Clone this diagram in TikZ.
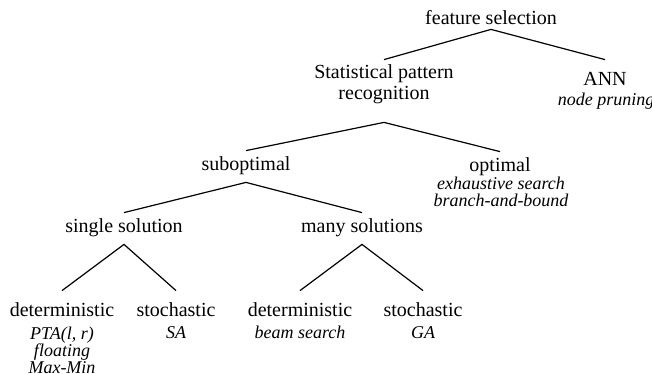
\documentclass[tikz,border=0pt]{standalone}
\usepackage{fontspec}
\setmainfont{Liberation Serif}
\begin{document}
\begin{tikzpicture}[x=0.5pt,y=-0.5pt,
  ttl/.style={font=\fontsize{10}{10.3}\selectfont, anchor=base, inner sep=0pt,
    text height=9.5pt, text depth=6pt, align=center},
  subt/.style={font=\fontsize{9}{8.5}\selectfont\itshape, anchor=base, inner sep=0pt, align=center},
  edge/.style={line width=0.6pt}]
\useasboundingbox (0,0) rectangle (652,374);
% titles (multi-line nodes are placed at the baseline of their last line)
\node[ttl, text depth=2pt] (fs) at (491,25) {feature selection};
\node[ttl, font=\fontsize{10}{10}\selectfont, text height=19.5pt, text depth=11.5pt] (spr) at (384,99) {Statistical pattern\\recognition};
\node[ttl, text height=12.5pt] (ann) at (605,85) {ANN};
\node[subt] (annS) at (606,105) {node pruning};
\node[ttl] (sub) at (246,170) {suboptimal};
\node[ttl] (opt) at (500,171) {optimal};
\node[subt] (optS) at (501,206.5) {exhaustive search\\branch-and-bound};
\node[ttl] (single) at (124,232) {single solution};
\node[ttl] (many) at (362,232) {many solutions};
\node[ttl, text height=12.5pt] (det1) at (62,316) {deterministic};
\node[subt] (det1S) at (62,373) {PTA(l, r)\\floating\\Max-Min};
\node[ttl, text height=12.5pt] (sto1) at (176,316) {stochastic};
\node[subt] (sto1S) at (176,338) {SA};
\node[ttl, text height=12.5pt] (det2) at (300,316) {deterministic};
\node[subt] (det2S) at (300,338) {beam search};
\node[ttl, text height=12.5pt] (sto2) at (423,316) {stochastic};
\node[subt] (sto2S) at (423,338) {GA};
% connectors
\draw[edge] (spr.north) -- (fs.south) -- (ann.north);
\draw[edge] (sub.north) -- (spr.south) -- (opt.north);
\draw[edge] (single.north) -- (sub.south) -- (many.north);
\draw[edge] (det1.north) -- (single.south) -- (sto1.north);
\draw[edge] (det2.north) -- (many.south) -- (sto2.north);
\end{tikzpicture}
\end{document}
